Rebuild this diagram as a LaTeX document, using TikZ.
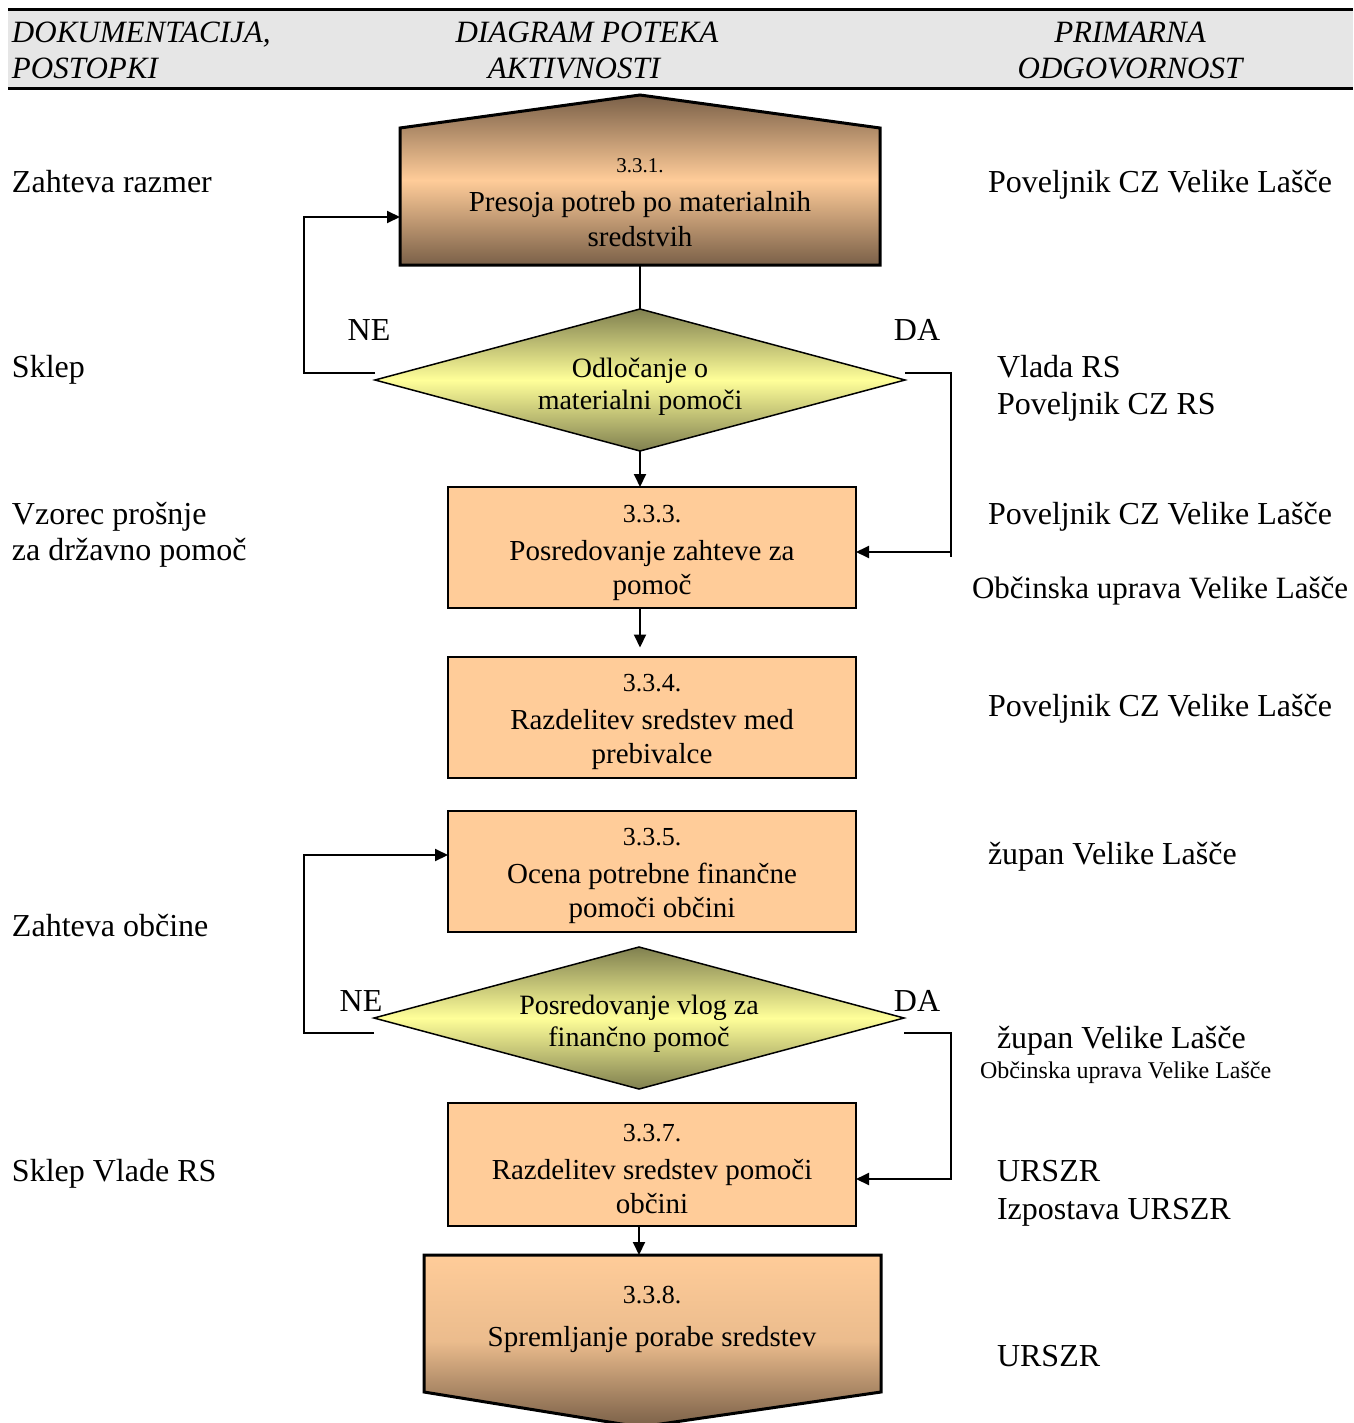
\documentclass[tikz,border=0pt]{standalone}
\usepackage{fontspec}
\setmainfont{Liberation Serif}
\usetikzlibrary{shapes.geometric,arrows.meta,backgrounds}
\newcommand\myfs[2]{\fontsize{#1}{#2}\selectfont}
\definecolor{peach}{RGB}{255,204,153}
\definecolor{brownD}{RGB}{122,96,72}
\definecolor{oliveD}{RGB}{128,128,80}
\definecolor{yel}{RGB}{255,255,153}
\definecolor{hdrgray}{RGB}{230,230,230}
\begin{document}
\begin{tikzpicture}[x=1pt,y=-1pt,
  txt/.style={inner sep=0, outer sep=0, font=\myfs{32}{37}},
  smalltxt/.style={inner sep=0, outer sep=0, font=\myfs{24}{28}},
  hdr/.style={inner sep=0, outer sep=0, font=\myfs{31}{36}\itshape},
  box/.style={draw, line width=2pt, fill=peach, minimum width=408pt, minimum height=121pt, inner sep=0, outer sep=0},
  boxtxt/.style={inner sep=0, outer sep=0, align=center, font=\myfs{29}{34}},
  dec/.style={diamond, draw, line width=1.5pt, aspect=3.73, inner sep=0, outer sep=0, minimum width=530pt, minimum height=142pt, top color=oliveD, bottom color=oliveD, middle color=yel},
  dectxt/.style={inner sep=0, outer sep=0, align=center, font=\myfs{28}{32}},
  conn/.style={line width=2pt},
  arr/.style={line width=2pt, -{Triangle[length=13pt,width=12pt]}},
  ]
\useasboundingbox (0,0) rectangle (1353,1423);

% header band
\fill[hdrgray] (8,10) rectangle (1353,89);
\draw[line width=3pt] (8,10) -- (1353,10);
\draw[line width=3pt] (8,89) -- (1353,89);
\node[hdr, anchor=base west] (h1a) at (12,43) {DOKUMENTACIJA,};
\node[hdr, anchor=base west] (h1b) at (12,79) {POSTOPKI};
\node[hdr, anchor=base] (h2a) at (587,43) {DIAGRAM POTEKA};
\node[hdr, anchor=base] (h2b) at (574,79) {AKTIVNOSTI};
\node[hdr, anchor=base] (h3a) at (1130,43) {PRIMARNA};
\node[hdr, anchor=base] (h3b) at (1130,79) {ODGOVORNOST};

% top pentagon 3.3.1
\node[inner sep=0, outer sep=0, minimum width=480pt, minimum height=137pt] (p1) at (640,196.5) {};
\coordinate (p1top) at (640,95);
\draw[line width=3pt, line join=miter, top color=brownD, bottom color=brownD, middle color=peach]
  (p1.south west) -- (p1.north west) -- (p1top) -- (p1.north east) -- (p1.south east) -- cycle;
\node[boxtxt, font=\myfs{29}{35}] (p1t) at (640,202.5)
  {{\myfs{21}{35}3.3.1.}\\[4pt]Presoja potreb po materialnih\\sredstvih};

% decision 1
\node[dec] (d1) at (640,380) {};
\node[dectxt] (d1t) at (640,387) {Odločanje o\\materialni pomoči};
% boxes
\node[box] (b3) at (652,547.5) {};
\node[boxtxt] (b3t) at (652,552.5) {{\myfs{26}{34}3.3.3.}\\[4pt]Posredovanje zahteve za\\pomoč};
\node[box] (b4) at (652,717) {};
\node[boxtxt] (b4t) at (652,722) {{\myfs{26}{34}3.3.4.}\\[4pt]Razdelitev sredstev med\\prebivalce};
\node[box] (b5) at (652,871) {};
\node[boxtxt] (b5t) at (652,876) {{\myfs{26}{34}3.3.5.}\\[4pt]Ocena potrebne finančne\\pomoči občini};
\node[dec] (d2) at (639,1018) {};
\node[dectxt] (d2t) at (639,1024) {Posredovanje vlog za\\finančno pomoč};
\node[box, minimum height=123pt] (b7) at (652,1164.5) {};
\node[boxtxt] (b7t) at (652,1169.5) {{\myfs{26}{34}3.3.7.}\\[4pt]Razdelitev sredstev pomoči\\občini};

% bottom pentagon 3.3.8
\node[inner sep=0, outer sep=0, minimum width=457pt, minimum height=137pt] (b8) at (652.5,1323.5) {};
\coordinate (b8tip) at (640,1427);
\draw[line width=3pt, line join=miter, top color=peach, bottom color=brownD, middle color=peach!85!brownD]
  (b8.north west) -- (b8.north east) -- (b8.south east) -- (b8tip) -- (b8.south west) -- cycle;
\node[boxtxt] (b8t) at (652,1319)
  {{\myfs{26}{34}3.3.8.}\\[9pt]Spremljanje porabe sredstev};

% connectors
\draw[conn] (p1.south) -- (d1.north);
\coordinate (ne1c) at (304,217);
\draw[arr] ([yshift=7pt]d1.west) -| (ne1c) -- (ne1c -| p1.west);
\coordinate (da1c) at (951,557);
\coordinate (da1a) at (951,552);
\draw[conn] ([yshift=7pt]d1.east) -| (da1c);
\draw[arr] (da1a) -- (da1a -| b3.east);
\draw[arr] (d1.south) -- (d1.south |- b3.north);
\draw[arr, shorten >=9pt] (b3.south -| d1.south) -- (b4.north -| d1.south);

\coordinate (ne2c) at (304,855);
\draw[arr] ([yshift=-15pt]d2.west) -| (ne2c) -- (ne2c -| b5.west);
\coordinate (da2c) at (951,1179);
\draw[arr] ([yshift=-15pt]d2.east) -| (da2c) -- (da2c -| b7.east);
\draw[arr] (b7.south -| d2.south) -- (b8.north -| d2.south);

% NE / DA labels
\node[txt, anchor=base] (ne1) at (369,340) {NE};
\node[txt, anchor=base] (da1) at (917,340) {DA};
\node[txt, anchor=base] (ne2) at (361,1011) {NE};
\node[txt, anchor=base] (da2) at (917,1011) {DA};

% left column
\node[txt, anchor=base west] (l1) at (12,193) {Zahteva razmer};
\node[txt, anchor=base west] (l2) at (12,377) {Sklep};
\node[txt, anchor=base west] (l3a) at (12,524) {Vzorec prošnje};
\node[txt, anchor=base west] (l3b) at (12,560) {za državno pomoč};
\node[txt, anchor=base west] (l5) at (12,936) {Zahteva občine};
\node[txt, anchor=base west] (l7) at (12,1181) {Sklep Vlade RS};

% right column
\node[txt, anchor=base west] (r1) at (988,193) {Poveljnik CZ Velike Lašče};
\node[txt, anchor=base west] (r2a) at (997,377) {Vlada RS};
\node[txt, anchor=base west] (r2b) at (997,414) {Poveljnik CZ RS};
\node[txt, anchor=base west] (r3a) at (988,524) {Poveljnik CZ Velike Lašče};
\node[txt, anchor=base west, font=\myfs{31}{36}] (r3b) at (972,598) {Občinska uprava Velike Lašče};
\node[txt, anchor=base west] (r4) at (988,716) {Poveljnik CZ Velike Lašče};
\node[txt, anchor=base west] (r5) at (988,864) {župan Velike Lašče};
\node[txt, anchor=base west] (r6a) at (997,1048) {župan Velike Lašče};
\node[smalltxt, anchor=base west] (r6b) at (980,1078) {Občinska uprava Velike Lašče};
\node[txt, anchor=base west] (r7a) at (997,1181) {URSZR};
\node[txt, anchor=base west] (r7b) at (997,1219) {Izpostava URSZR};
\node[txt, anchor=base west] (r8) at (997,1366) {URSZR};
\end{tikzpicture}
\end{document}
